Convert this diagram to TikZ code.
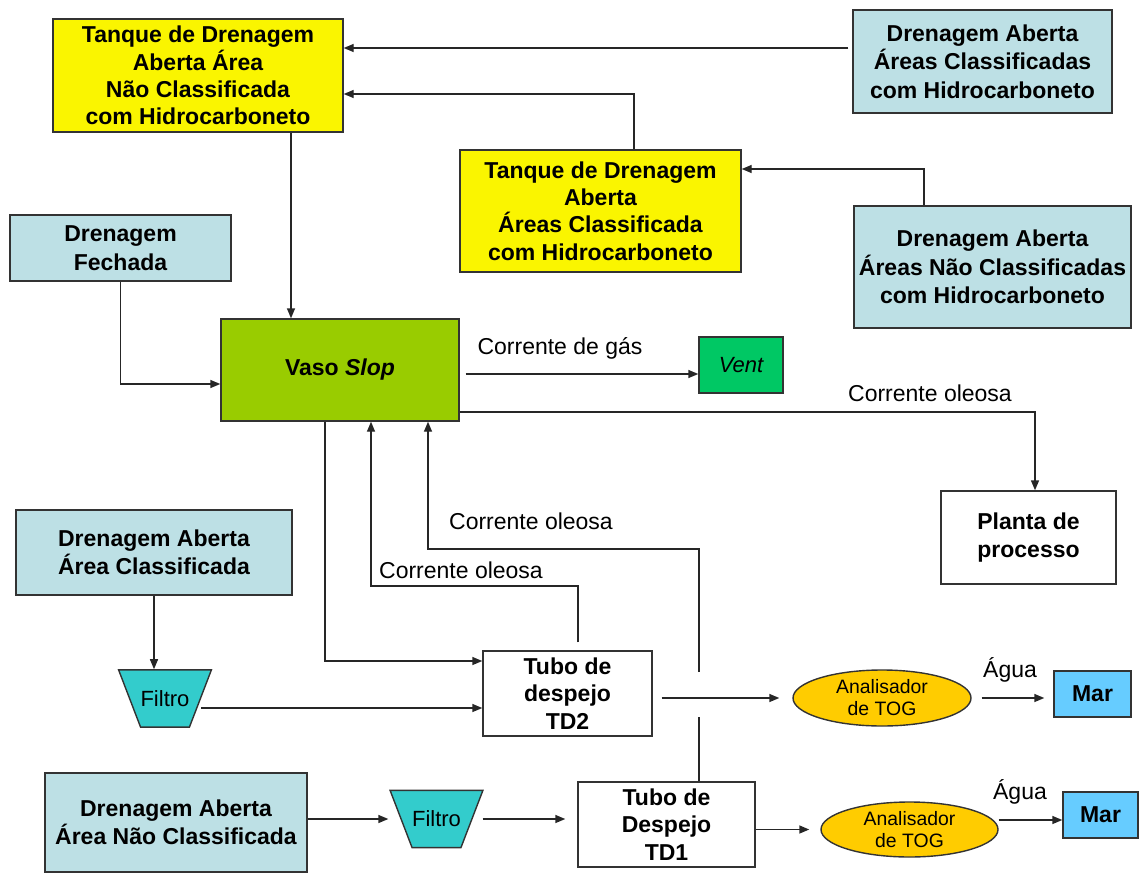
\documentclass[tikz,border=0pt]{standalone}
\usepackage{fontspec}
\setmainfont{Liberation Sans}
\usetikzlibrary{shapes.geometric,arrows.meta}
\definecolor{tanqueyel}{HTML}{FAF500}
\definecolor{drainblue}{HTML}{BDE0E5}
\definecolor{vasogreen}{HTML}{99CC00}
\definecolor{ventgreen}{HTML}{00C864}
\definecolor{filtcyan}{HTML}{33CCCC}
\definecolor{togyel}{HTML}{FFCC00}
\definecolor{marblue}{HTML}{66CCFF}
\tikzset{box/.style = {draw=black!80, line width=0.7pt, align=center, inner sep=1pt, font=\bfseries\fontsize{11.5}{13.6}\selectfont}}
\tikzset{tank/.style = {box, fill=tanqueyel}}
\tikzset{drain/.style = {box, fill=drainblue, font=\bfseries\fontsize{11.5}{14.2}\selectfont}}
\tikzset{pipe/.style = {box, fill=white}}
\tikzset{sea/.style = {box, fill=marblue}}
\tikzset{tog/.style = {ellipse, draw=black!80, line width=0.7pt, fill=togyel, align=center, inner sep=0pt, font=\fontsize{9.7}{11}\selectfont}}
\tikzset{filtro/.style = {trapezium, trapezium angle=69, shape border rotate=180, draw=black!80, line width=0.7pt, fill=filtcyan, inner xsep=0pt, inner ysep=10.25pt, font=\fontsize{11}{13}\selectfont}}
\tikzset{lbl/.style = {inner sep=0pt, font=\fontsize{11.5}{13.5}\selectfont}}
\tikzset{flow/.style = {draw=black!85, line width=0.7pt, -{Triangle[length=5pt,width=4pt]}}}
\tikzset{line/.style = {draw=black!85, line width=0.7pt}}

\begin{document}
\begin{tikzpicture}[x=0.5pt, y=-0.5pt]
      \useasboundingbox (0,0) rectangle (1139,872);
      \node[tank, minimum width=145pt, minimum height=56.5pt] (tanqNC) at (198,75.5) {Tanque de Drenagem\\Aberta Área\\Não Classificada\\com Hidrocarboneto};
      \node[drain, minimum width=129.5pt, minimum height=51.5pt] (dach) at (982.5,61.5) {Drenagem Aberta\\Áreas Classificadas\\com Hidrocarboneto};
      \node[tank, minimum width=140.5pt, minimum height=61pt] (tanqC) at (600.5,211) {Tanque de Drenagem\\Aberta\\Áreas Classificada\\com Hidrocarboneto};
      \node[drain, minimum width=138.5pt, minimum height=61pt] (danch) at (992.5,267) {Drenagem Aberta\\Áreas Não Classificadas\\com Hidrocarboneto};
      \node[drain, minimum width=110.5pt, minimum height=33pt] (dfech) at (120.5,248) {Drenagem\\Fechada};
      \node[box, fill=vasogreen, minimum width=119pt, minimum height=51pt] (vaso) at (340,370) {Vaso \textit{Slop}};
      \node[box, fill=ventgreen, minimum width=42pt, minimum height=28pt, font=\itshape\fontsize{11}{13}\selectfont] (vent) at (741,365) {Vent};
      \node[pipe, minimum width=87.5pt, minimum height=46.5pt] (planta) at (1028.5,537.5) {Planta de\\processo};
      \node[drain, minimum width=138pt, minimum height=42.5pt] (dacl) at (154,552.5) {Drenagem Aberta\\Área Classificada};
      \node[filtro] (filt1) at (165,698.5) {Filtro};
      \node[pipe, minimum width=84.5pt, minimum height=42.5pt] (td2) at (567.5,693.5) {Tubo de\\despejo\\TD2};
      \node[drain, minimum width=131pt, minimum height=49.5pt] (danc) at (176,822.5) {Drenagem Aberta\\Área Não Classificada};
      \node[filtro] (filt2) at (436.5,819) {Filtro};
      \node[pipe, minimum width=88.5pt, minimum height=42.5pt] (td1) at (666.5,824.5) {Tubo de\\Despejo\\TD1};
      \node[tog, minimum width=89pt, minimum height=28pt] (anal1) at (882,698) {Analisador\\de TOG};
      \node[sea, minimum width=38.5pt, minimum height=23pt] (mar1) at (1092.5,694) {Mar};
      \node[tog, minimum width=88.5pt, minimum height=27.5pt] (anal2) at (909.5,829.5) {Analisador\\de TOG};
      \node[sea, minimum width=37.5pt, minimum height=23pt] (mar2) at (1100.5,815) {Mar};

      \draw[flow, shorten <=2pt] ([yshift=6.75pt]dach.west) -- ([yshift=6.75pt]dach.west -| tanqNC.east);
      \draw[flow] ([xshift=16.75pt]tanqC.north) |- ([yshift=-9.25pt]tanqNC.east);
      \draw[flow] ([xshift=-34.25pt]danch.north) |- ([yshift=21pt]tanqC.east);
      \draw[flow] ([xshift=46.5pt]tanqNC.south) -- ([xshift=46.5pt]tanqNC.south |- vaso.north);
      \draw[flow] (dfech.south) |- ([yshift=-7pt]vaso.west);
      \draw[flow, shorten <=3pt] ([yshift=-2pt]vaso.east) -- ([yshift=-2pt]vaso.east -| vent.west);
      \node[lbl] (lgas) at (560,348) {Corrente de gás};
      \draw[flow] ([yshift=-21pt]vaso.east) -| ([xshift=3.25pt]planta.north);
      \node[lbl] (loil1) at (930,393) {Corrente oleosa};
      \draw[flow] ([xshift=-7.5pt]vaso.south) |- ([yshift=16.25pt]td2.west);
      \coordinate (oil2) at (578,586);
      \draw[flow, shorten <=4pt] ([xshift=5.25pt]td2.north) -- (oil2) -| ([xshift=15.5pt]vaso.south);
      \node[lbl] (loil2) at (461,570) {Corrente oleosa};
      \coordinate (cross1) at (699,717);
      \coordinate (cross2) at (699,672);
      \coordinate (oil3) at (699,549);
      \draw[line] ([xshift=16.25pt]td1.north) -- (cross1);
      \draw[flow] (cross2) -- (oil3) -| ([xshift=44pt]vaso.south);
      \node[lbl] (loil3) at (531,521) {Corrente oleosa};
      \draw[flow] (dacl.south) -- (dacl.south |- filt1.north);
      \draw[flow] ([yshift=-7.25pt]td2.west -| filt1.east) -- ([yshift=-7.25pt]td2.west);
      \draw[flow, shorten <=4.5pt, shorten >=6.5pt] (td2.east |- anal1.west) -- (anal1.west);
      \draw[flow, shorten <=5pt, shorten >=4.5pt] (anal1.east) -- (anal1.east -| mar1.west);
      \node[lbl] (lagua1) at (1010,670) {Água};
      \draw[flow] (danc.east |- filt2.west) -- ([xshift=-6pt]filt2.west);
      \draw[flow, shorten <=5pt, shorten >=6pt] (filt2.east) -- (filt2.east -| td1.west);
      \draw[flow, shorten >=5.5pt] (td1.east |- anal2.west) -- (anal2.west);
      \draw[flow] ([yshift=4.75pt]anal2.east) -- ([yshift=4.75pt]anal2.east -| mar2.west);
      \node[lbl] (lagua2) at (1020,792) {Água};
    \end{tikzpicture}
\end{document}
